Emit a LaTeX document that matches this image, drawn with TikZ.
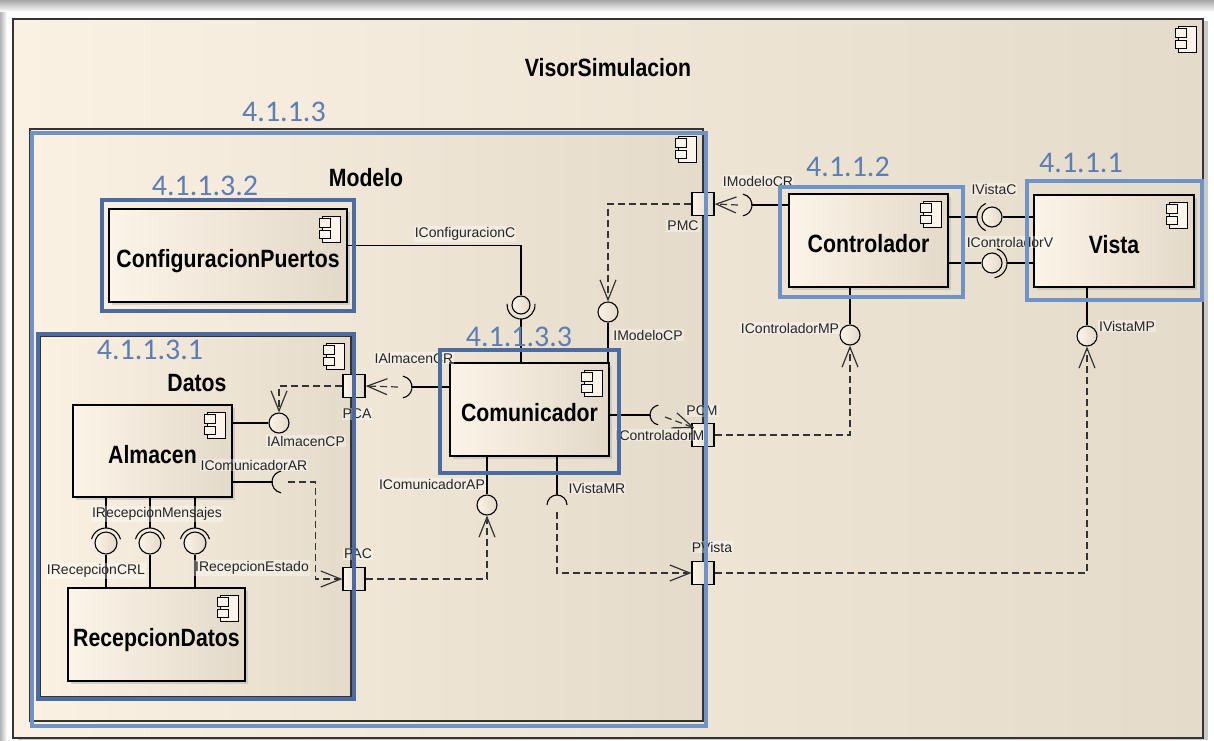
\documentclass[tikz,border=0pt]{standalone}
\usepackage{fontspec}
\setmainfont{Liberation Sans}
\newfontfamily\namefont[FakeStretch=0.85]{Liberation Sans}
\newfontfamily\numfont{Carlito}
\usetikzlibrary{arrows.meta, calc, shadows}
\definecolor{boxleft}{HTML}{FCF4E8}
\definecolor{boxright}{HTML}{E3D9C9}
\definecolor{bgleft}{HTML}{FAF1E3}
\definecolor{bgright}{HTML}{E5DBCA}
\definecolor{lightblue}{RGB}{112,146,196}
\definecolor{darkblue}{RGB}{76,107,160}
\definecolor{numblue}{RGB}{92,126,180}
\definecolor{depgray}{HTML}{333333}
\tikzset{
  comp/.style={rectangle,draw,line width=1.2pt,left color=boxleft,right color=boxright,
    drop shadow={shadow xshift=3pt,shadow yshift=-3pt,fill=black!30,opacity=.5},
    inner sep=0pt,text height=27pt,text depth=3pt,font=\namefont\bfseries\fontsize{25}{28}\selectfont},
  container/.style={rectangle,draw=black!80,line width=1.4pt,left color=bgleft,right color=bgright,inner sep=0pt},
  blueframe/.style={rectangle,draw=#1,line width=4pt,inner sep=0pt},
  ttl/.style={font=\namefont\bfseries\fontsize{25}{28}\selectfont},
  numlbl/.style={font=\numfont\fontsize{30}{32}\selectfont,text=numblue,inner sep=0pt},
  lbl/.style={font=\fontsize{14}{16}\selectfont,text=black!85,inner sep=1pt,fill=white,fill opacity=.35,text opacity=1},
  portbox/.style={rectangle,draw,line width=1.2pt,left color=boxleft,right color=boxright,minimum width=22pt,minimum height=23pt,inner sep=0pt},
  lolli/.style={circle,draw,line width=1.1pt,left color=boxleft,right color=boxright,minimum size=20pt,inner sep=0pt},
  conn/.style={line width=1.1pt},
  dep/.style={line width=1.2pt,draw=depgray,dash pattern=on 7pt off 4pt,-{Straight Barb[length=20pt,width=16pt]}},
  iconline/.style={line width=1.2pt,fill=boxleft}
}
% component symbol in the top right corner
\newcommand{\umlicon}[1]{%
  \draw[iconline] ($(#1)+(-25,8)$) rectangle ++(18,26);
  \draw[iconline] ($(#1)+(-28,10)$) rectangle ++(11,9);
  \draw[iconline] ($(#1)+(-28,22)$) rectangle ++(11,8);
}

\begin{document}
\begin{tikzpicture}[x=1pt,y=-1pt]
\useasboundingbox (0,0) rectangle (1214,740);
\fill[white] (0,0) rectangle (1214,740);
\shade[top color=black!35,bottom color=white] (0,0) rectangle (1214,12);
\shade[left color=black!30,right color=white] (0,12) rectangle (7,740);

% containers
\node[container,drop shadow={shadow xshift=5pt,shadow yshift=-2pt,fill=black!35,opacity=.6},
  minimum width=1190pt,minimum height=719pt] (visor) at (608,378.5) {};
\node[ttl] (visort) at (608,68) {VisorSimulacion};
\umlicon{visor.north east}
\node[container,minimum width=673pt,minimum height=592pt] (modelo) at (366.5,425) {};
\node[ttl] (modelot) at (366,178) {Modelo};
\umlicon{modelo.north east}
\node[container,drop shadow={shadow xshift=3pt,shadow yshift=-3pt,fill=black!30,opacity=.5},
  minimum width=311pt,minimum height=361pt] (datos) at (195.5,516.5) {};
\node[ttl] (datost) at (197,383) {Datos};
\umlicon{datos.north east}

% components
\node[comp,minimum width=238pt,minimum height=93pt] (config) at (228,255.5) {ConfiguracionPuertos};
\node[comp,minimum width=159pt,minimum height=92pt] (almacen) at (152.5,451) {Almacen};
\node[comp,minimum width=177pt,minimum height=93pt] (recep) at (156.5,634.5) {RecepcionDatos};
\node[comp,minimum width=159pt,minimum height=93pt] (comu) at (529.5,409.5) {Comunicador};
\node[comp,minimum width=159pt,minimum height=93pt] (ctrl) at (868.5,240.5) {Controlador};
\node[comp,minimum width=160pt,minimum height=92pt] (vista) at (1114,241) {Vista};
\foreach \c in {config,almacen,recep,comu,ctrl,vista} {\umlicon{\c.north east}}

% ports
\node[portbox] (pmc) at (703,204) {};
\node[portbox] (pcm) at (703,435) {};
\node[portbox] (pvista) at (703,573) {};
\node[portbox] (pca) at (354,386) {};
\node[portbox] (pac) at (354,579) {};

% provided interfaces
\node[lolli,minimum size=18pt] (bcfg) at (521,305) {};
\node[lolli] (bmodcp) at (608,312) {};
\node[lolli] (balmcp) at (279,423) {};
\node[lolli] (bcomap) at (487,505) {};
\node[lolli] (bctrlmp) at (850,335) {};
\node[lolli] (bvistamp) at (1087,336) {};
\node[lolli] (bvistac) at (992,217) {};
\node[lolli] (bctrlv) at (992,263) {};
\node[lolli,minimum size=22pt] (brcrl) at (106,543) {};
\node[lolli,minimum size=22pt] (brmen) at (150,543) {};
\node[lolli,minimum size=22pt] (brest) at (195,543) {};

% required interfaces
\coordinate (smodcr) at (741,205);
\coordinate (salmcr) at (401,387);
\coordinate (scomar) at (283,482);
\coordinate (sctrlm) at (660,415);
\coordinate (svistamr) at (557,505);
\draw[conn] (bcfg.center) ++(-5:14) arc[start angle=-5,end angle=185,radius=14];
\draw[conn] (smodcr) ++(-80:11) arc[start angle=-80,end angle=80,radius=11];
\draw[conn] (salmcr) ++(-80:11) arc[start angle=-80,end angle=80,radius=11];
\draw[conn] (scomar) ++(100:11) arc[start angle=100,end angle=260,radius=11];
\draw[conn] (sctrlm) ++(100:10) arc[start angle=100,end angle=260,radius=10];
\draw[conn] (svistamr) ++(180:10) arc[start angle=180,end angle=360,radius=10];
\draw[conn] (bvistac.center) ++(115:15) arc[start angle=115,end angle=245,radius=15];
\draw[conn] (bctrlv.center) ++(-70:15) arc[start angle=-70,end angle=80,radius=15];
\foreach \s in {brcrl,brmen,brest} {
  \draw[conn] (\s.center) ++(195:15) arc[start angle=195,end angle=345,radius=15];
  \draw[conn] (almacen.south -| \s) -- ($(\s.center)+(0,-15)$);
  \draw[conn] (\s.south) -- (recep.north -| \s);
}

% assembly lines
\draw[conn] ([yshift=10pt]config.east) -| (bcfg.north);
\draw[conn] (comu.north -| bcfg) -- ($(bcfg.center)+(0,14)$);
\draw[conn] (bmodcp.south) -- (comu.north -| bmodcp);
\draw[conn] (balmcp.west) -- (almacen.east |- balmcp);
\draw[conn] (almacen.east |- scomar) -- ($(scomar)+(-11,0)$);
\draw[conn] ($(salmcr)+(11,0)$) -- (comu.west |- salmcr);
\draw[conn] (comu.east |- sctrlm) -- ($(sctrlm)+(-10,0)$);
\draw[conn] (comu.south -| bcomap) -- (bcomap.north);
\draw[conn] (comu.south -| svistamr) -- ($(svistamr)+(0,-10)$);
\draw[conn] ($(smodcr)+(11,0)$) -- (ctrl.west |- smodcr);
\draw[conn] (ctrl.south -| bctrlmp) -- (bctrlmp.north);
\draw[conn] (vista.south -| bvistamp) -- (bvistamp.north);
\draw[conn] (ctrl.east |- bvistac) -- ($(bvistac.center)+(-15,0)$);
\draw[conn] (bvistac.east) -- (vista.west |- bvistac);
\draw[conn] (ctrl.east |- bctrlv) -- (bctrlv.west);
\draw[conn] ($(bctrlv.center)+(15,0)$) -- (vista.west |- bctrlv);

% delegations
\draw[dep] (pmc.west) -| (bmodcp.north);
\draw[dep] ($(smodcr)+(-3,0)$) -- (pmc.east);
\draw[dep] (pca.west) -| (balmcp.north);
\draw[dep] ($(salmcr)+(-3,0)$) -- (pca.east);
\draw[dep] ($(scomar)+(5,0)$) -| ([xshift=-27pt]pac.west) -- (pac.west);
\draw[dep] (pac.east) -| (bcomap.south);
\draw[dep] ($(sctrlm)+(5,2)$) -- ([xshift=3pt,yshift=-5pt]pcm.north west);
\draw[dep] (pcm.east) -| (bctrlmp.south);
\draw[dep] ($(svistamr)+(0,7)$) |- (pvista.west);
\draw[dep] (pvista.east) -| (bvistamp.south);

% labels
\node[lbl] (lcfg) at (465,234) {IConfiguracionC};
\node[lbl] (lmodcr) at (758,181) {IModeloCR};
\node[lbl] (lpmc) at (683,226) {PMC};
\node[lbl] (lmodcp) at (648,335) {IModeloCP};
\node[lbl] (lalmcr) at (414,358) {IAlmacenCR};
\node[lbl] (lpca) at (357,414) {PCA};
\node[lbl] (lalmcp) at (306,441) {IAlmacenCP};
\node[lbl] (lcomar) at (254,465) {IComunicadorAR};
\node[lbl] (lrmen) at (157,514) {IRecepcionMensajes};
\node[lbl] (lrcrl) at (96,571) {IRecepcionCRL};
\node[lbl] (lrest) at (252,568) {IRecepcionEstado};
\node[lbl] (lpac) at (358,554) {PAC};
\node[lbl] (lcomap) at (432,484) {IComunicadorAP};
\node[lbl] (lvistamr) at (597,488) {IVistaMR};
\node[lbl] (lpcm) at (702,411) {PCM};
\node[lbl] (lctrlm) at (660,435) {IControladorM};
\node[lbl] (lpvista) at (712,547) {PVista};
\node[lbl] (lctrlmp) at (790,328) {IControladorMP};
\node[lbl] (lvistamp) at (1127,326) {IVistaMP};
\node[lbl] (lvistac) at (994,189) {IVistaC};
\node[lbl] (lctrlv) at (1010,242) {IControladorV};

% section frames
\node[blueframe=lightblue,minimum width=674pt,minimum height=593pt] (modelofr) at (369,429.5) {};
\node[blueframe=darkblue,minimum width=252pt,minimum height=111pt] (configfr) at (228,255.5) {};
\node[blueframe=darkblue,minimum width=316pt,minimum height=365pt] (datosfr) at (196,516.5) {};
\node[blueframe=darkblue,minimum width=179pt,minimum height=123pt] (comufr) at (529.5,411.5) {};
\node[blueframe=lightblue,minimum width=183pt,minimum height=110pt] (ctrlfr) at (871.5,242) {};
\node[blueframe=lightblue,minimum width=175pt,minimum height=119pt] (vistafr) at (1114.5,240.5) {};
\node[numlbl] (nmodelo) at (284,112) {4.1.1.3};
\node[numlbl] (nconfig) at (205,186) {4.1.1.3.2};
\node[numlbl] (ndatos) at (150,350) {4.1.1.3.1};
\node[numlbl] (ncomu) at (519,337) {4.1.1.3.3};
\node[numlbl] (nctrl) at (848,167) {4.1.1.2};
\node[numlbl] (nvista) at (1081,163) {4.1.1.1};
\end{tikzpicture}
\end{document}
